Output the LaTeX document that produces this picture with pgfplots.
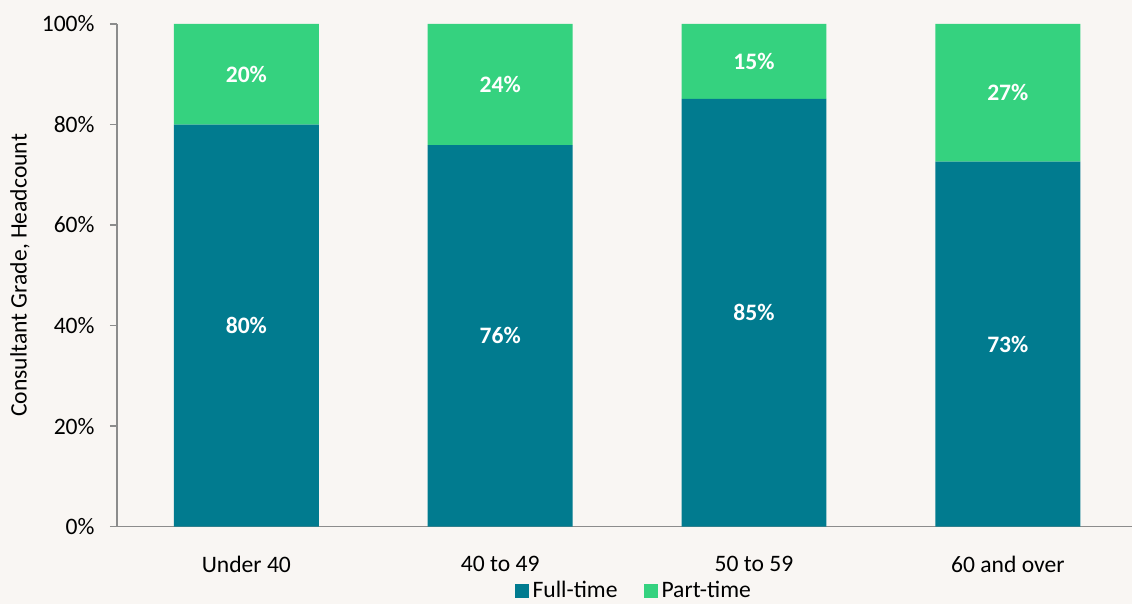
\documentclass[border=0pt]{standalone}
\usepackage{pgfplots}
\pgfplotsset{compat=1.18}
\usepackage{fontspec}
\setmainfont{Carlito}
\definecolor{ftc}{HTML}{017B8F}
\definecolor{ptc}{HTML}{35D27F}
\definecolor{bgc}{HTML}{F9F6F3}
\definecolor{axc}{HTML}{8C8C8C}
\begin{document}
\fontsize{11.8}{14}\selectfont
\begin{tikzpicture}
\fill[bgc] (-58.5pt,-38.5pt) rectangle (508pt,263.5pt);
\begin{axis}[
  scale only axis, width=508pt, height=251.5pt,
  ybar stacked, bar width=72.5pt,
  xmin=-0.51, xmax=3.49, ymin=0, ymax=100,
  enlargelimits=false,
  xtick={0,1,2,3}, xticklabels={Under 40, 40 to 49, 50 to 59, 60 and over},
  ytick={0,20,40,60,80,100},
  yticklabel={\pgfmathprintnumber{\tick}\%},
  /pgf/number format/assume math mode=true,
  axis x line*=bottom, axis y line*=left,
  axis line style={draw=axc, line width=0.8pt},
  tick align=outside, major tick length=3.5pt,
  ytick style={draw=axc, line width=0.8pt},
  xtick style={draw=none},
  yticklabel style={anchor=east, inner sep=0pt, xshift=-7.5pt, text=black},
  xticklabel style={yshift=-7pt, text=black},
  ylabel={Consultant Grade, Headcount},
  every axis y label/.style={at={(axis description cs:0,0.5)}, xshift=-48.5pt, rotate=90, anchor=center},
  point meta=rawy,
  nodes near coords={\pgfmathprintnumber[fixed,precision=0]{\pgfplotspointmeta}\%},
  every node near coord/.append style={anchor=center, text=white, font=\bfseries},
  legend columns=-1,
  legend style={draw=none, fill=none, at={(0.51,-0.129)}, anchor=center, /tikz/every even column/.append style={column sep=11pt}},
  legend image code/.code={\fill[#1] (0pt,-3.5pt) rectangle (7pt,3.5pt);},
]
\addplot[fill=ftc, draw=none] coordinates {(0,80) (1,75.9) (2,85.1) (3,72.6)};
\addplot[fill=ptc, draw=none] coordinates {(0,20) (1,24.1) (2,14.9) (3,27.4)};
\legend{Full-time, Part-time}
\end{axis}
\end{tikzpicture}
\end{document}
